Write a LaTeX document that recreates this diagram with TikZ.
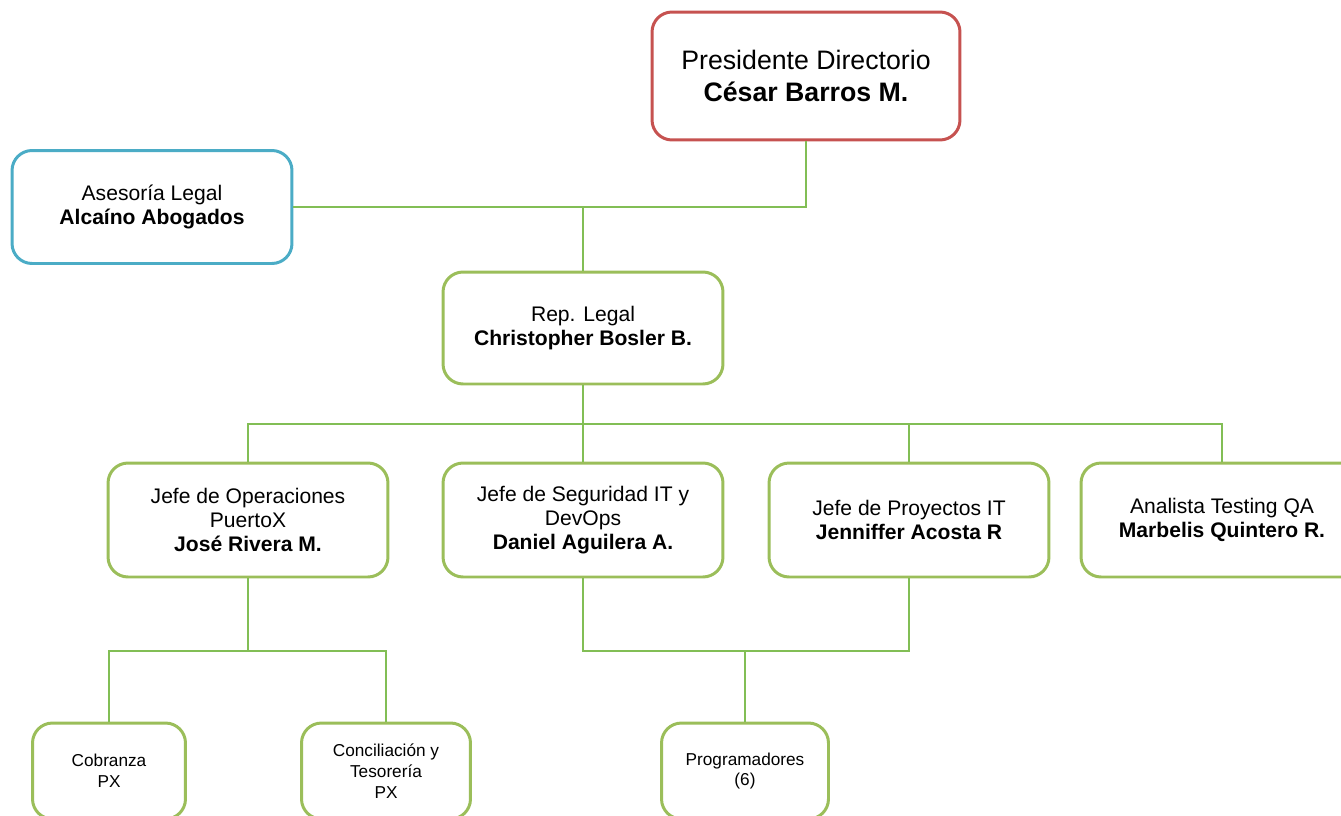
\documentclass[tikz,border=0pt]{standalone}
\usepackage{fontspec}
\setmainfont{Liberation Sans}
\usetikzlibrary{calc}
\definecolor{boxgreen}{RGB}{155,190,90}
\definecolor{linegreen}{RGB}{130,190,85}
\definecolor{boxred}{RGB}{198,82,80}
\definecolor{boxblue}{RGB}{75,172,198}
\tikzset{
	orgbox/.style={draw=boxgreen, line width=1.7pt, rounded corners=0.4cm, fill=white, align=center, inner sep=2pt, minimum width=5.6cm, minimum height=2.28cm, font=\fontsize{12}{13.6}\selectfont},
	topbox/.style={orgbox, draw=boxred, minimum width=6.16cm, minimum height=2.56cm, font=\fontsize{15.2}{18}\selectfont},
	sidebox/.style={orgbox, draw=boxblue, minimum height=2.26cm},
	smallbox/.style={orgbox, minimum height=1.92cm, font=\fontsize{9.8}{11.8}\selectfont},
	conn/.style={draw=linegreen, line width=1.1pt}
}

\begin{document}
\begin{tikzpicture}[x=0.02cm, y=-0.02cm]
		%%%%% START %%%%%
		
		\clip (0, 0) rectangle (1341, 815);
		
		\node[topbox] (pres) at (806, 76) {Presidente Directorio\\\textbf{César Barros M.}};
		\node[sidebox] (asesor) at (152, 207) {Asesoría Legal\\\textbf{Alcaíno Abogados}};
		\node[orgbox, minimum height=2.24cm] (rep) at (583, 328) {Rep. Legal\\\textbf{Christopher Bosler B.}};
		
		\node[orgbox] (oper) at (248, 520) {Jefe de Operaciones\\PuertoX\\\textbf{José Rivera M.}};
		\node[orgbox] (segur) at (583, 520) {Jefe de Seguridad IT y\\DevOps\\\textbf{Daniel Aguilera A.}};
		\node[orgbox] (proy) at (909, 520) {Jefe de Proyectos IT\\\textbf{Jenniffer Acosta R}};
		\node[orgbox, minimum width=5.64cm] (anal) at (1222, 520) {Analista Testing QA\\\textbf{Marbelis Quintero R.}};
		
		\node[smallbox, minimum width=3.06cm] (cobr) at (109, 771) {Cobranza\\PX};
		\node[smallbox, minimum width=3.38cm] (conc) at (386, 771) {Conciliación y\\Tesorería\\PX};
		\node[smallbox, minimum width=3.34cm] (prog) at (745, 771) {Programadores\\(6)};
		
		% connectors
		\coordinate (bus) at (0, 424);
		\coordinate (low) at (0, 651);
		
		\draw[conn] (pres.south) |- (asesor.east);
		\draw[conn] (rep.north |- asesor.east) -- (rep.north);
		\draw[conn] (rep.south) -- (segur.north);
		\draw[conn] (oper.north) -- (oper.north |- bus) -- (anal.north |- bus) -- (anal.north);
		\draw[conn] (proy.north |- bus) -- (proy.north);
		
		\draw[conn] (oper.south) -- (oper.south |- low);
		\draw[conn] (cobr.north) -- (cobr.north |- low) -- (conc.north |- low) -- (conc.north);
		\draw[conn] (segur.south) -- (segur.south |- low) -- (proy.south |- low) -- (proy.south);
		\draw[conn] (prog.north) -- (prog.north |- low);
		
		%%%%% END %%%%%
\end{tikzpicture}
\end{document}
